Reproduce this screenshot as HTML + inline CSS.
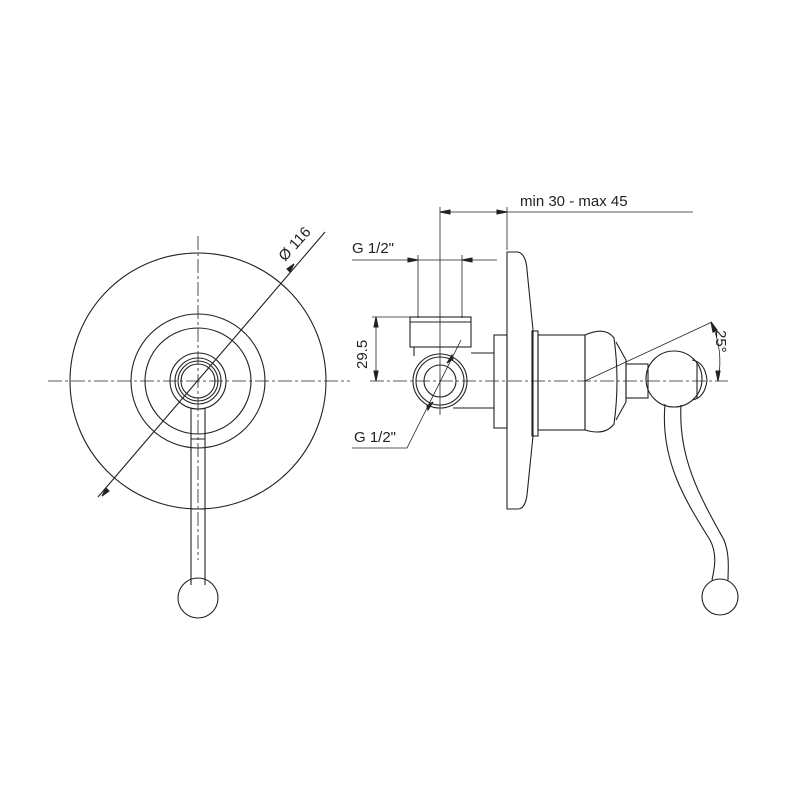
<!DOCTYPE html>
<html><head><meta charset="utf-8"><style>body{margin:0;background:#fff}svg{display:block}</style></head><body>
<svg width="800" height="800" viewBox="0 0 800 800" xmlns="http://www.w3.org/2000/svg" font-family="Liberation Sans, sans-serif">
<g fill="none" stroke="#222" stroke-width="1.1">
<!-- left view -->
<line x1="48" y1="381" x2="350" y2="381" stroke-dasharray="14,3,3,3" stroke-width="0.8"/>
<line x1="198" y1="236" x2="198" y2="560" stroke-dasharray="14,3,3,3" stroke-width="0.8"/>
<circle cx="198" cy="381" r="128"/>
<circle cx="198" cy="381" r="67"/>
<circle cx="198" cy="381" r="53"/>
<circle cx="198" cy="381" r="28"/>
<circle cx="198" cy="381" r="23"/>
<circle cx="198" cy="381" r="20"/>
<circle cx="198" cy="381" r="17"/>
<path d="M191 408 V585 M205 408 V585 M191 439 H205 M191 509 H205"/>
<circle cx="198" cy="598" r="20"/>
<line x1="98" y1="497" x2="325" y2="232"/>
<path d="M106 488 l-4 8 l7 -5z M290 272 l4 -8 l-7 5z" fill="#222"/>
<!-- right view -->
<line x1="370" y1="381" x2="728" y2="381" stroke-dasharray="14,3,3,3" stroke-width="0.8"/>
<line x1="440" y1="207" x2="440" y2="415" stroke-width="0.8"/>
<line x1="507" y1="207" x2="507" y2="250" stroke-width="0.8"/>
<line x1="440" y1="212" x2="693" y2="212" stroke-width="0.8"/>
<path d="M440 212 l10 -2 v4z M507 212 l-10 -2 v4z" fill="#222"/>
<line x1="352" y1="260" x2="497" y2="260" stroke-width="0.8"/>
<line x1="418" y1="255" x2="418" y2="318" stroke-width="0.8"/>
<line x1="462" y1="255" x2="462" y2="318" stroke-width="0.8"/>
<path d="M418 260 l-10 -2 v4z M462 260 l10 -2 v4z" fill="#222"/>
<rect x="410" y="317" width="61" height="30"/>
<line x1="410" y1="322" x2="471" y2="322"/>
<path d="M471 353 H494 M453 408 H494 M414 347 V356"/>
<circle cx="440" cy="381" r="27"/>
<circle cx="440" cy="381" r="24"/>
<circle cx="440" cy="381" r="16"/>
<rect x="494" y="335" width="13" height="93"/>
<path d="M507 252 H518 Q526 254 527 270 L533 330 V436 L527 495 Q525 509 518 509 H507 Z"/>
<rect x="532" y="331" width="6" height="105"/>
<rect x="538" y="335" width="47" height="95"/>
<path d="M585 335 Q605 326 614 338 Q620 381 614 424 Q605 436 585 430 Z"/>
<path d="M616 342 L626 360 V402 L616 420"/>
<rect x="626" y="364" width="22" height="34"/>
<circle cx="674" cy="379" r="28"/>
<path d="M692 360 Q705 362 707 380 Q705 398 692 400 M697 362 V398"/>
<path d="M665 404 C660 460 685 500 710 540 C718 555 714 570 712 580 M681 405 C678 460 702 500 724 540 C730 555 728 570 728 580"/>
<circle cx="720" cy="597" r="18"/>
<line x1="585" y1="381" x2="712" y2="322" stroke-width="0.8"/>
<path d="M711 322 Q724 350 718 381" stroke-width="0.8"/>
<path d="M711 322 l2 10 l4 -2z M718 381 l-2 -10 l4 0z" fill="#222"/>
<line x1="372" y1="317" x2="410" y2="317" stroke-width="0.8"/>
<line x1="376" y1="317" x2="376" y2="381" stroke-width="0.8"/>
<path d="M376 317 l-2 10 h4z M376 381 l-2 -10 h4z" fill="#222"/>
<path d="M352 448 H407 L461 340" stroke-width="0.8"/>
<path d="M452 355 l-5 8 l6 -4z M428 410 l5 -8 l-6 4z" fill="#222"/>
</g>
<g fill="#222" font-size="15">
<text x="520" y="206">min 30 - max 45</text>
<text x="352" y="253">G 1/2"</text>
<text x="354" y="442">G 1/2"</text>
<text transform="translate(367,369) rotate(-90)">29.5</text>
<text transform="translate(716,330) rotate(90)">25°</text>
<text transform="translate(285,262) rotate(-48)">Ø 116</text>
</g>
</svg>
</body></html>
